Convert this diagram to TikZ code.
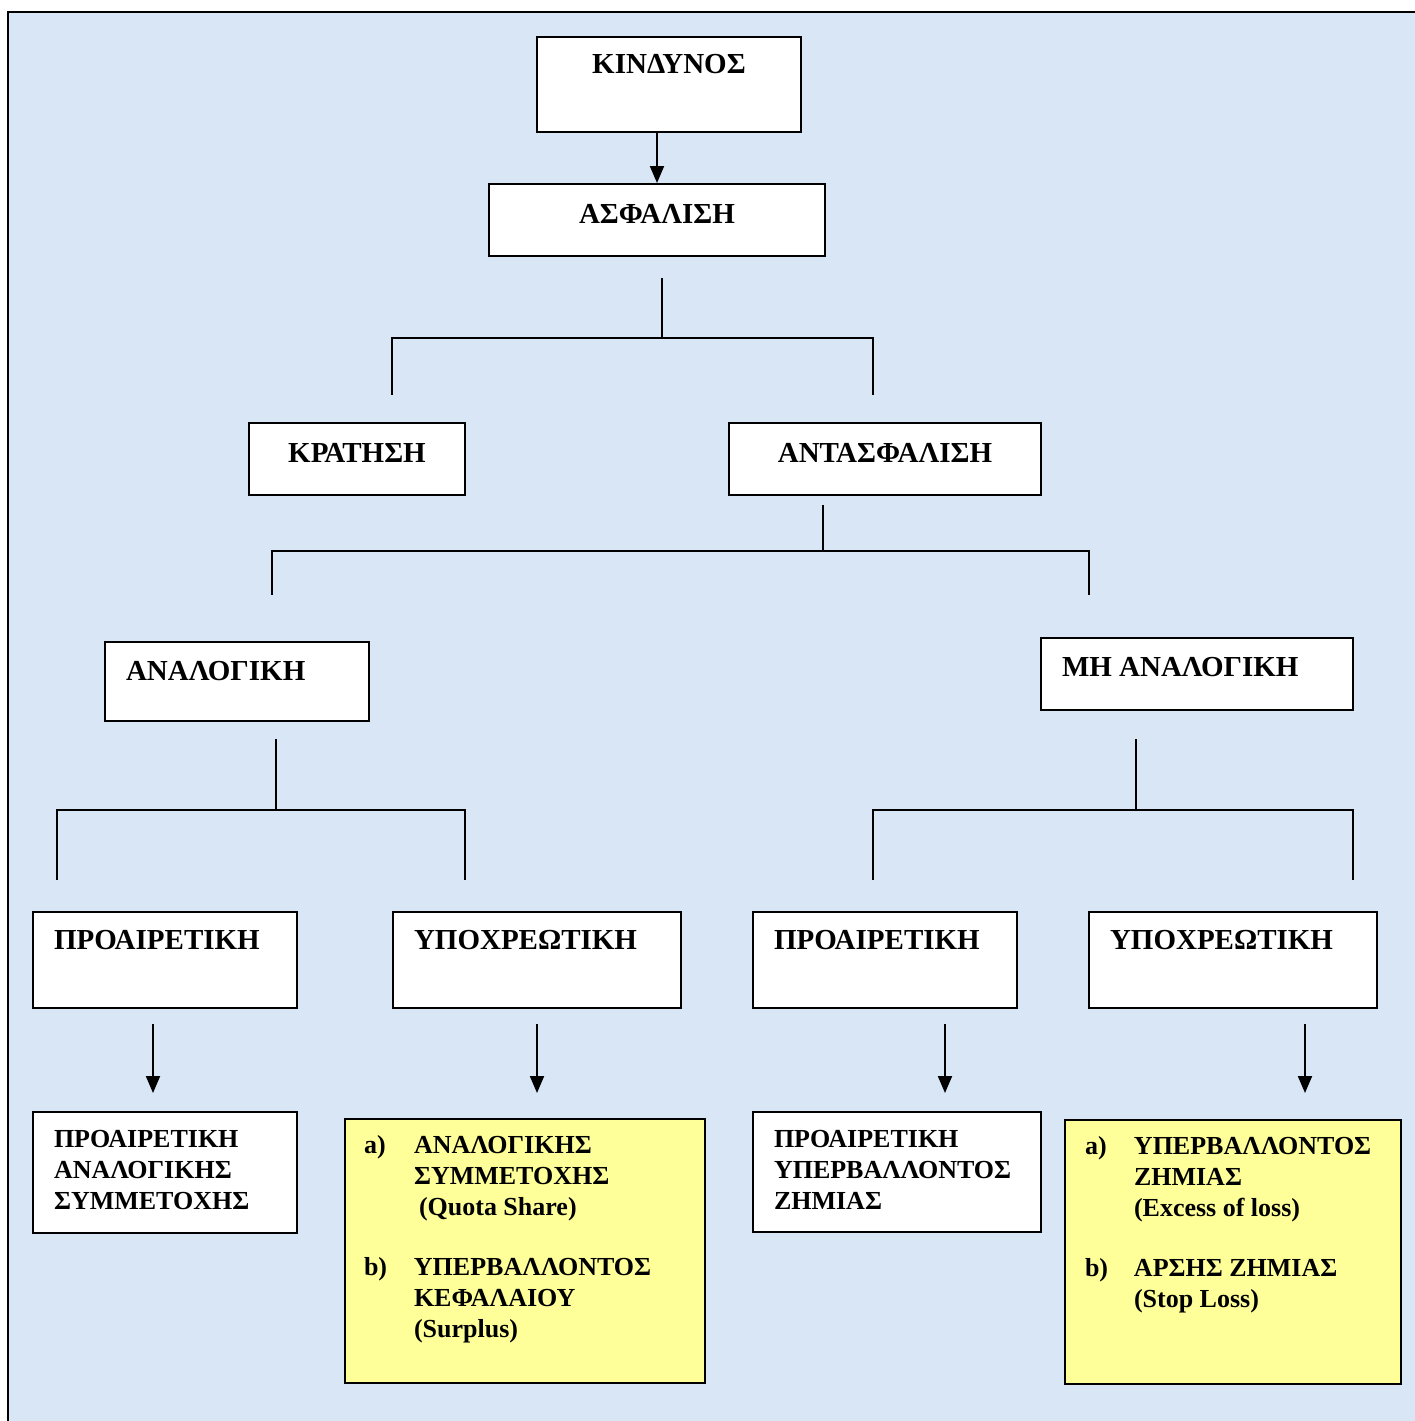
\documentclass[tikz,border=0pt]{standalone}
\usepackage{fontspec}
\setmainfont{Liberation Serif}
\usetikzlibrary{arrows.meta,calc}
\definecolor{bgblue}{HTML}{D9E6F5}
\definecolor{notey}{HTML}{FFFF99}
\newcommand\bigtxt{\fontsize{14.5}{17}\selectfont\bfseries}
\newcommand\smtxt{\fontsize{13}{15.5}\selectfont\bfseries}
% width, height, top pad, alignment, text
\newcommand\boxpar[5]{\parbox[t][#2][t]{#1}{\vspace*{#3}#4#5}}
\newcommand\lft[1]{\raggedright\leftskip=#1\relax}
\tikzset{
  x=0.5pt, y=-0.5pt,
  box/.style={draw, line width=1pt, fill=white, inner sep=0pt, anchor=north west},
  notebox/.style={box, fill=notey},
  conn/.style={line width=1pt},
  arr/.style={line width=1pt, -{Triangle[length=8.5pt,width=7pt]}}
}
\begin{document}
\begin{tikzpicture}
\useasboundingbox (0,0) rectangle (1415,1421);
\fill[white] (0,0) rectangle (1415,1421);
\fill[bgblue] (8,12) rectangle (1415,1421);
\draw[line width=1pt] (8,1421) -- (8,12) -- (1415,12);

% level nodes
\node[box] (A) at (536,36) {\boxpar{132pt}{47.5pt}{8.5pt}{\centering}{\bigtxt ΚΙΝΔΥΝΟΣ}};
\node[box] (B) at (488,183) {\boxpar{168pt}{36pt}{10pt}{\centering}{\bigtxt ΑΣΦΑΛΙΣΗ}};
\node[box] (C) at (248,422) {\boxpar{108pt}{36pt}{10pt}{\centering}{\bigtxt ΚΡΑΤΗΣΗ}};
\node[box] (D) at (728,422) {\boxpar{156pt}{36pt}{10pt}{\centering}{\bigtxt ΑΝΤΑΣΦΑΛΙΣΗ}};
\node[box] (E) at (104,641) {\boxpar{132pt}{39.5pt}{9.5pt}{\lft{10.5pt}}{\bigtxt ΑΝΑΛΟΓΙΚΗ}};
\node[box] (F) at (1040,637) {\boxpar{156pt}{36pt}{9.5pt}{\lft{10.5pt}}{\bigtxt ΜΗ ΑΝΑΛΟΓΙΚΗ}};
\node[box] (G1) at (32,911) {\boxpar{132pt}{48pt}{9pt}{\lft{10.5pt}}{\bigtxt ΠΡΟΑΙΡΕΤΙΚΗ}};
\node[box] (G2) at (392,911) {\boxpar{144pt}{48pt}{9pt}{\lft{10.5pt}}{\bigtxt ΥΠΟΧΡΕΩΤΙΚΗ}};
\node[box] (G3) at (752,911) {\boxpar{132pt}{48pt}{9pt}{\lft{10.5pt}}{\bigtxt ΠΡΟΑΙΡΕΤΙΚΗ}};
\node[box] (G4) at (1088,911) {\boxpar{144pt}{48pt}{9pt}{\lft{10.5pt}}{\bigtxt ΥΠΟΧΡΕΩΤΙΚΗ}};

% bottom nodes
\node[box] (H1) at (32,1111) {\boxpar{132pt}{60.5pt}{9pt}{\lft{10.5pt}}{\smtxt ΠΡΟΑΙΡΕΤΙΚΗ\\ΑΝΑΛΟΓΙΚΗΣ\\ΣΥΜΜΕΤΟΧΗΣ}};
\node[notebox] (H2) at (344,1118) {\boxpar{180pt}{132pt}{8pt}{\lft{9.5pt}}{\smtxt
  \makebox[25pt][l]{a)}ΑΝΑΛΟΓΙΚΗΣ\\
  \hspace*{25pt}ΣΥΜΜΕΤΟΧΗΣ\\
  \hspace*{27.5pt}(Quota Share)\\[14.5pt]
  \makebox[25pt][l]{b)}ΥΠΕΡΒΑΛΛΟΝΤΟΣ\\
  \hspace*{25pt}ΚΕΦΑΛΑΙΟΥ\\
  \hspace*{25pt}(Surplus)}};
\node[box] (H3) at (752,1111) {\boxpar{144pt}{60pt}{9pt}{\lft{10.5pt}}{\smtxt ΠΡΟΑΙΡΕΤΙΚΗ\\ΥΠΕΡΒΑΛΛΟΝΤΟΣ\\ΖΗΜΙΑΣ}};
\node[notebox] (H4) at (1064,1119) {\boxpar{168pt}{132pt}{8pt}{\lft{10pt}}{\smtxt
  \makebox[24.5pt][l]{a)}ΥΠΕΡΒΑΛΛΟΝΤΟΣ\\
  \hspace*{24.5pt}ΖΗΜΙΑΣ\\
  \hspace*{24.5pt}(Excess of loss)\\[14.5pt]
  \makebox[24.5pt][l]{b)}ΑΡΣΗΣ ΖΗΜΙΑΣ\\
  \hspace*{24.5pt}(Stop Loss)}};

% arrow top
\draw[arr] (A.south -| B.north) -- (B.north);

% fork 1
\coordinate (j1) at ($(B.south)+(5,81)$);
\draw[conn] ($(B.south)+(5,21)$) -- (j1);
\draw[conn] ($(C.north)+(35,-27)$) |- (j1) -| ($(D.north)+(-12,-27)$);

% fork 2
\coordinate (j2) at ($(D.south)+(-62,55)$);
\draw[conn] ($(D.south)+(-62,9)$) -- (j2);
\draw[conn] ($(E.north)+(35,-46)$) |- (j2) -| ($(F.north)+(-108,-42)$);

% fork 3
\coordinate (j3) at ($(E.south)+(39,88)$);
\draw[conn] ($(E.south)+(39,17)$) -- (j3);
\draw[conn] ($(G1.north)+(-108,-31)$) |- (j3) -| ($(G2.north)+(-72,-31)$);

% fork 4
\coordinate (j4) at ($(F.south)+(-61,99)$);
\draw[conn] ($(F.south)+(-61,28)$) -- (j4);
\draw[conn] ($(G3.north)+(-12,-31)$) |- (j4) -| ($(G4.north)+(120,-31)$);

% lower arrows
\draw[arr] ($(G1.south)+(-12,15)$) -- ($(H1.north)+(-12,-18)$);
\draw[arr] ($(G2.south)+(0,15)$) -- ($(H2.north)+(12,-25)$);
\draw[arr] ($(G3.south)+(60,15)$) -- ($(H3.north)+(48,-18)$);
\draw[arr] ($(G4.south)+(72,15)$) -- ($(H4.north)+(72,-26)$);
\end{tikzpicture}
\end{document}
